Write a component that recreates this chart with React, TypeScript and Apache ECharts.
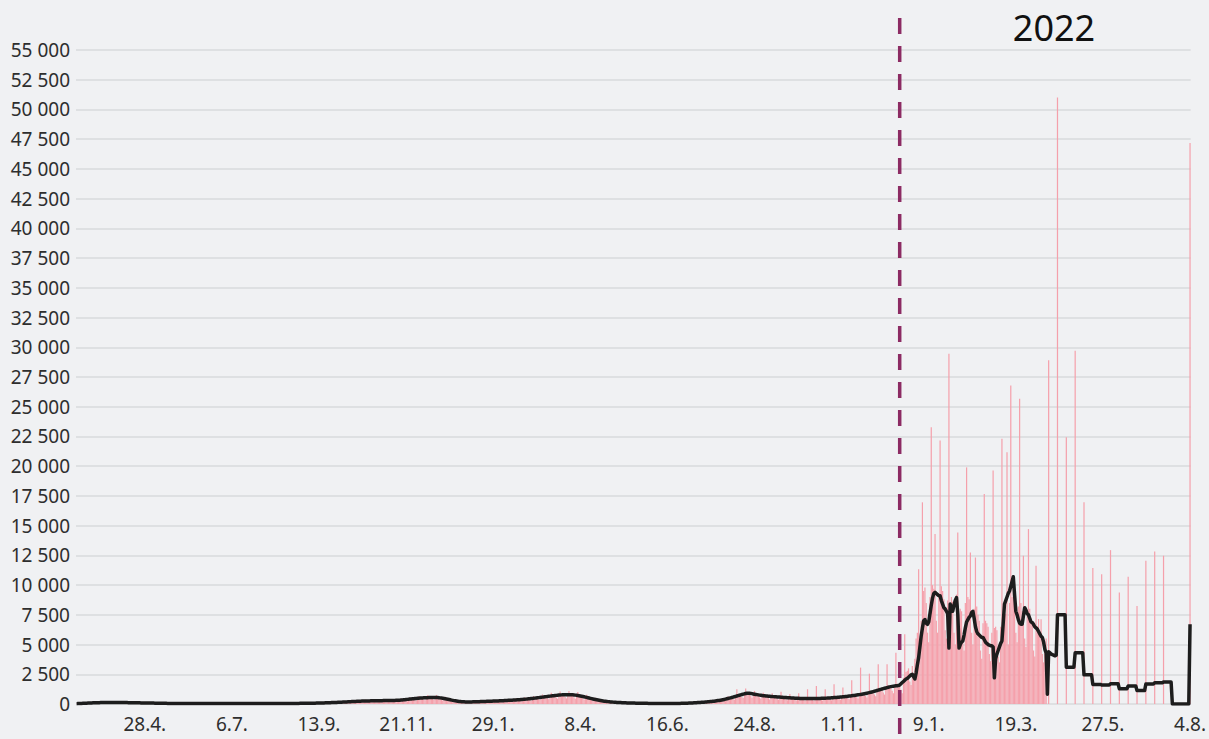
import React, { useEffect, useRef } from "react";
import * as echarts from "echarts";

// first day of the series: 5.3.2020
const START_YEAR = 2020;
const START_MONTH = 2; // March (0-based)
const START_DAY = 5;
const MARKER_INDEX = 652; // dashed separator
const YEAR_LABEL = "2022";
const Y_MAX = 55000;
const Y_STEP = 2500;
const LABEL_STEP = 69;

// daily values (one row = one week, Thu..Wed)
const dailyValues: number[] = [
  20, 30, 25, 20, 40, 60, 55,
  60, 75, 50, 45, 80, 120, 100,
  100, 110, 80, 70, 110, 160, 125,
  125, 130, 95, 80, 120, 175, 140,
  135, 135, 100, 80, 120, 180, 140,
  130, 125, 90, 75, 110, 165, 125,
  115, 110, 80, 65, 95, 145, 110,
  100, 95, 70, 55, 85, 125, 95,
  85, 80, 60, 50, 70, 105, 80,
  70, 68, 50, 40, 58, 88, 65,
  58, 54, 40, 32, 45, 68, 52,
  46, 44, 32, 26, 38, 58, 45,
  40, 38, 28, 22, 34, 52, 40,
  36, 35, 26, 21, 32, 50, 38,
  34, 33, 25, 20, 30, 46, 36,
  33, 32, 24, 19, 29, 45, 35,
  35, 34, 26, 21, 31, 48, 37,
  39, 38, 28, 23, 35, 53, 42,
  43, 42, 32, 25, 38, 59, 46,
  46, 45, 34, 27, 41, 63, 50,
  45, 44, 33, 26, 40, 62, 48,
  41, 40, 30, 24, 36, 56, 44,
  39, 38, 28, 23, 34, 53, 42,
  41, 40, 30, 24, 36, 56, 44,
  46, 45, 34, 27, 41, 63, 50,
  54, 52, 39, 31, 47, 73, 57,
  60, 60, 46, 38, 59, 94, 77,
  75, 75, 58, 48, 75, 120, 99,
  97, 97, 75, 62, 97, 157, 128,
  126, 125, 97, 81, 126, 203, 165,
  163, 160, 124, 103, 160, 258, 209,
  206, 202, 156, 128, 198, 315, 253,
  247, 240, 183, 149, 227, 357, 284,
  273, 262, 198, 160, 241, 378, 299,
  288, 276, 208, 168, 254, 398, 315,
  302, 290, 219, 176, 266, 417, 330,
  317, 305, 232, 189, 290, 462, 374,
  367, 362, 281, 233, 360, 577, 467,
  458, 447, 343, 281, 430, 683, 546,
  529, 511, 388, 314, 477, 749, 594,
  572, 548, 412, 330, 493, 762, 592,
  554, 515, 375, 289, 416, 616, 460,
  415, 372, 262, 197, 275, 400, 293,
  260, 232, 163, 124, 176, 263, 200,
  187, 176, 131, 105, 158, 249, 198,
  192, 186, 142, 116, 178, 283, 227,
  220, 214, 163, 133, 203, 322, 257,
  250, 242, 184, 150, 230, 364, 292,
  283, 276, 211, 173, 265, 420, 337,
  328, 318, 243, 198, 303, 482, 386,
  376, 366, 280, 229, 351, 560, 451,
  441, 432, 333, 274, 421, 672, 543,
  533, 522, 402, 330, 508, 809, 651,
  636, 620, 475, 389, 596, 946, 759,
  737, 714, 544, 443, 673, 1061, 845,
  815, 782, 589, 473, 709, 1100, 860,
  815, 768, 568, 448, 659, 1002, 768,
  712, 656, 474, 364, 522, 776, 581,
  527, 476, 337, 254, 360, 526, 387,
  346, 310, 217, 163, 230, 336, 249,
  223, 200, 141, 107, 151, 221, 165,
  149, 135, 96, 73, 104, 155, 117,
  106, 97, 70, 53, 77, 116, 88,
  81, 74, 54, 42, 61, 92, 70,
  65, 60, 43, 34, 49, 73, 55,
  50, 46, 33, 25, 37, 56, 43,
  40, 37, 27, 21, 31, 49, 38,
  37, 36, 28, 23, 36, 59, 48,
  48, 48, 38, 32, 51, 84, 70,
  71, 72, 58, 49, 78, 129, 108,
  109, 110, 88, 74, 118, 193, 161,
  162, 163, 129, 109, 173, 284, 235,
  237, 240, 191, 162, 257, 423, 352,
  357, 362, 289, 246, 392, 647, 539,
  544, 548, 434, 365, 576, 1240, 774,
  773, 766, 597, 496, 770, 1300, 990,
  955, 905, 668, 522, 763, 1100, 887,
  825, 766, 561, 438, 643, 950, 757,
  710, 664, 490, 386, 572, 900, 682,
  643, 604, 447, 353, 522, 1040, 620,
  584, 548, 405, 319, 472, 840, 561,
  529, 498, 369, 292, 432, 900, 519,
  491, 465, 347, 276, 412, 1240, 501,
  477, 454, 341, 274, 412, 1520, 509,
  489, 470, 356, 287, 435, 1240, 543,
  525, 507, 386, 313, 476, 1660, 600,
  582, 563, 429, 349, 533, 1380, 675,
  657, 638, 488, 398, 610, 2000, 777,
  757, 737, 565, 462, 709, 3060, 908,
  887, 866, 666, 547, 842, 2550, 1085,
  1064, 1041, 803, 660, 1018, 3340, 1316,
  1292, 1260, 968, 792, 1215, 3340, 1551,
  1512, 1460, 1110, 900, 1364, 4320, 1694,
  1400, 1700, 1200, 900, 2200, 5870, 2700,
  2800, 3000, 1900, 1600, 3200, 2600, 3800,
  5500, 6000, 11340, 5200, 7000, 16960, 9500,
  9800, 8500, 6000, 5200, 9000, 23270, 10000,
  9700, 14290, 7000, 6000, 9000, 22150, 9900,
  9500, 8800, 6200, 5500, 8700, 29450, 8000,
  9000, 8600, 6000, 5000, 9200, 14430, 7500,
  8000, 7800, 5200, 4500, 8500, 19900, 9000,
  8800, 12740, 6000, 5000, 8000, 12320, 8200,
  7500, 7000, 4500, 3800, 6800, 17670, 7000,
  6800, 6500, 4200, 3600, 6000, 19630, 6400,
  6500, 6200, 4000, 3500, 6500, 22300, 7500,
  8000, 7600, 21170, 5000, 8500, 26790, 9000,
  9800, 9000, 6000, 5200, 8200, 25670, 8500,
  7800, 12470, 5500, 4800, 7500, 14710, 8000,
  7200, 6800, 4500, 4000, 11620, 6500, 7150,
  6000, 7130, 4200, 3500, 4800, 5500, 0,
  28900, 0, 0, 0, 0, 0, 0,
  51000, 0, 0, 0, 0, 0, 0,
  22430, 0, 0, 0, 0, 0, 0,
  29700, 0, 0, 0, 0, 0, 0,
  16960, 0, 0, 0, 0, 0, 0,
  11430, 0, 0, 0, 0, 0, 0,
  10920, 0, 0, 0, 0, 0, 0,
  12940, 0, 0, 0, 0, 0, 0,
  9380, 0, 0, 0, 0, 0, 0,
  10700, 0, 0, 0, 0, 0, 0,
  8250, 0, 0, 0, 0, 0, 0,
  12050, 0, 0, 0, 0, 0, 0,
  12830, 0, 0, 0, 0, 0, 0,
  12470, 0, 0, 0, 0, 0, 0,
  0, 0, 0, 0, 0, 0, 0,
  0, 0, 0, 0, 0, 0, 0,
  47170,
];

// 7-day average line (same weekly rows)
const avgValues: number[] = [
  30, 35, 40, 45, 50, 55, 60,
  65, 70, 75, 80, 85, 90, 95,
  100, 105, 110, 112, 115, 118, 120,
  122, 125, 127, 128, 130, 130, 131,
  132, 133, 133, 132, 131, 130, 128,
  126, 124, 122, 120, 118, 116, 114,
  112, 110, 108, 106, 104, 102, 100,
  98, 96, 94, 92, 90, 88, 86,
  84, 82, 80, 78, 76, 74, 72,
  70, 68, 66, 64, 62, 60, 58,
  56, 54, 52, 50, 48, 47, 46,
  45, 44, 43, 42, 41, 40, 40,
  39, 38, 38, 37, 37, 36, 36,
  35, 35, 35, 35, 35, 35, 34,
  33, 33, 33, 33, 33, 33, 32,
  32, 32, 32, 32, 32, 33, 33,
  34, 34, 34, 35, 35, 36, 37,
  38, 38, 39, 39, 40, 41, 41,
  42, 42, 43, 43, 44, 44, 45,
  45, 45, 45, 45, 45, 44, 44,
  44, 44, 43, 43, 42, 42, 41,
  40, 40, 40, 39, 39, 39, 38,
  38, 38, 38, 39, 39, 39, 40,
  40, 41, 41, 42, 42, 43, 44,
  45, 45, 46, 47, 48, 49, 50,
  51, 52, 53, 54, 55, 56, 57,
  58, 60, 62, 64, 66, 68, 70,
  72, 75, 78, 80, 83, 86, 90,
  93, 97, 100, 104, 108, 112, 116,
  120, 125, 130, 135, 140, 145, 150,
  155, 160, 166, 172, 178, 184, 190,
  196, 202, 208, 214, 220, 225, 230,
  235, 240, 244, 248, 252, 255, 258,
  260, 262, 264, 266, 268, 270, 272,
  274, 276, 278, 280, 282, 284, 286,
  288, 290, 292, 294, 296, 298, 300,
  302, 305, 310, 315, 322, 330, 340,
  350, 362, 375, 388, 400, 412, 425,
  436, 447, 458, 468, 478, 488, 496,
  504, 511, 518, 524, 530, 535, 540,
  545, 548, 550, 550, 548, 544, 538,
  528, 515, 500, 482, 462, 440, 418,
  395, 372, 350, 328, 306, 286, 266,
  248, 232, 218, 206, 196, 188, 182,
  178, 176, 175, 175, 176, 178, 180,
  183, 186, 190, 194, 198, 202, 206,
  210, 214, 218, 222, 226, 230, 234,
  238, 242, 246, 250, 255, 260, 265,
  270, 276, 282, 288, 294, 300, 306,
  312, 318, 324, 330, 337, 344, 351,
  358, 366, 374, 382, 390, 400, 410,
  420, 432, 444, 456, 468, 480, 494,
  508, 522, 536, 550, 564, 578, 592,
  606, 620, 634, 648, 662, 676, 690,
  702, 714, 726, 738, 748, 758, 768,
  776, 782, 786, 788, 788, 786, 782,
  776, 768, 758, 746, 732, 716, 698,
  678, 656, 632, 606, 580, 554, 528,
  502, 476, 450, 424, 400, 376, 352,
  330, 310, 290, 272, 256, 240, 226,
  212, 200, 188, 178, 168, 158, 150,
  142, 135, 128, 122, 116, 111, 106,
  101, 97, 93, 89, 86, 83, 80,
  77, 74, 72, 70, 68, 66, 64,
  62, 60, 58, 56, 54, 52, 50,
  48, 46, 44, 42, 41, 40, 39,
  38, 37, 36, 35, 35, 35, 35,
  35, 36, 37, 38, 40, 42, 44,
  46, 48, 51, 54, 57, 60, 64,
  68, 72, 77, 82, 87, 92, 98,
  104, 110, 117, 124, 131, 138, 146,
  154, 163, 172, 182, 192, 203, 214,
  226, 240, 255, 270, 286, 302, 320,
  340, 362, 385, 410, 436, 462, 490,
  518, 548, 578, 608, 640, 672, 704,
  736, 766, 796, 826, 856, 880, 900,
  910, 905, 890, 870, 848, 826, 806,
  786, 766, 748, 730, 714, 700, 688,
  676, 664, 654, 644, 636, 628, 620,
  612, 604, 596, 588, 580, 572, 564,
  556, 548, 540, 532, 524, 516, 510,
  504, 498, 492, 486, 480, 476, 472,
  468, 465, 462, 460, 458, 456, 455,
  454, 454, 455, 456, 458, 460, 463,
  466, 470, 474, 478, 483, 488, 494,
  500, 507, 514, 521, 529, 537, 545,
  554, 563, 572, 582, 592, 603, 614,
  626, 638, 651, 664, 678, 692, 706,
  721, 737, 753, 770, 788, 806, 825,
  845, 866, 888, 911, 935, 960, 986,
  1013, 1041, 1070, 1100, 1131, 1163, 1196,
  1230, 1260, 1290, 1320, 1350, 1380, 1410,
  1440, 1460, 1480, 1500, 1515, 1530, 1540,
  1550, 1600, 1700, 1800, 1900, 2000, 2100,
  2150, 2250, 2350, 2450, 2500, 2300, 2100,
  2600, 3300, 3900, 4800, 5700, 6400, 7000,
  7100, 6800, 6700, 6900, 7600, 8300, 8900,
  9300, 9400, 9300, 9200, 9100, 9100, 8700,
  8400, 8100, 8000, 7800, 7600, 4700, 8400,
  8100, 7800, 8300, 8700, 8950, 7600, 4700,
  5000, 5200, 5300, 5800, 6400, 6900, 7100,
  7300, 7400, 7700, 7800, 7200, 6500, 6100,
  5900, 5800, 5700, 5600, 5600, 5400, 5200,
  5100, 5000, 4950, 4900, 4900, 4800, 2200,
  3800, 4200, 4500, 4800, 5100, 5300, 6800,
  8400, 8700, 9000, 9300, 9500, 9900, 10300,
  10700, 9200, 7800, 7500, 7100, 6800, 6700,
  6700, 7400, 8100, 7900, 7600, 7500, 7200,
  6900, 6850, 6700, 6500, 6400, 6300, 6100,
  5900, 5700, 5600, 5200, 4600, 4300, 820,
  4400, 4300, 4200, 4150, 4100, 4050, 4100,
  7500, 7500, 7500, 7500, 7500, 7500, 7500,
  3100, 3100, 3100, 3100, 3100, 3100, 3100,
  4300, 4300, 4300, 4300, 4300, 4300, 4300,
  2450, 2450, 2450, 2450, 2450, 2450, 2450,
  1650, 1650, 1650, 1650, 1650, 1650, 1650,
  1600, 1600, 1600, 1600, 1600, 1600, 1600,
  1700, 1700, 1700, 1700, 1700, 1700, 1700,
  1280, 1280, 1280, 1280, 1280, 1280, 1280,
  1520, 1520, 1520, 1520, 1520, 1520, 1520,
  1130, 1130, 1130, 1130, 1130, 1130, 1130,
  1680, 1680, 1680, 1680, 1680, 1680, 1680,
  1780, 1780, 1780, 1780, 1780, 1780, 1780,
  1850, 1850, 1850, 1850, 1850, 1850, 1850,
  0, 0, 0, 0, 0, 0, 0,
  0, 0, 0, 0, 0, 0, 0,
  6700,
];

function buildCategories(n: number): string[] {
  const out: string[] = [];
  for (let i = 0; i < n; i++) {
    const d = new Date(Date.UTC(START_YEAR, START_MONTH, START_DAY + i));
    out.push(`${d.getUTCDate()}.${d.getUTCMonth() + 1}.`);
  }
  return out;
}

const fmt = (v: number) => String(v).replace(/\B(?=(\d{3})+(?!\d))/g, " ");

export default function App() {
  const ref = useRef<HTMLDivElement>(null);

  useEffect(() => {
    document.body.style.margin = "0";
    document.body.style.background = "#f0f1f3";
    if (!ref.current) return;
    const chart = echarts.init(ref.current, undefined, { renderer: "svg" });
    const categories = buildCategories(dailyValues.length);
    const last = categories.length - 1;
    const font = "'Noto Sans', 'Open Sans', sans-serif";

    chart.setOption({
      animation: false,
      backgroundColor: "#f0f1f3",
      grid: { left: 76, right: 18, top: 50, bottom: 35, containLabel: false },
      xAxis: {
        type: "category",
        data: categories,
        boundaryGap: true,
        axisLine: { show: false },
        axisTick: { show: false },
        splitLine: { show: false },
        axisLabel: {
          interval: (idx: number) => (last - idx) % LABEL_STEP === 0,
          hideOverlap: false,
          color: "#2e2e2e",
          fontSize: 19,
          fontFamily: font,
          margin: 10,
        },
      },
      yAxis: {
        type: "value",
        min: 0,
        max: Y_MAX,
        interval: Y_STEP,
        axisLine: { show: false },
        axisTick: { show: false },
        splitLine: { lineStyle: { color: "#d9dadd", width: 1.5 } },
        axisLabel: {
          formatter: fmt,
          color: "#2e2e2e",
          fontSize: 19,
          fontFamily: font,
          margin: 6,
        },
      },
      series: [
        {
          type: "bar",
          data: dailyValues,
          barCategoryGap: "4%",
          itemStyle: { color: "#f5a0ab" },
          z: 2,
        },
        {
          type: "line",
          data: avgValues,
          showSymbol: false,
          symbol: "none",
          lineStyle: { color: "#1d1d1d", width: 3.5, join: "round" },
          z: 3,
        },
      ],
    });

    const mx = chart.convertToPixel({ xAxisIndex: 0 }, MARKER_INDEX) as number;
    chart.setOption({
      graphic: [
        {
          type: "line",
          shape: { x1: mx, y1: 18, x2: mx, y2: 739 },
          style: { stroke: "#8c2b63", lineWidth: 3.5, lineDash: [16, 12] },
          z: 10,
        },
        {
          type: "text",
          x: 1054,
          y: 27,
          style: {
            text: YEAR_LABEL,
            font: "36px 'Noto Sans', sans-serif",
            fill: "#111111",
            textAlign: "center",
            textVerticalAlign: "middle",
          },
          z: 10,
        },
      ],
    });

    return () => chart.dispose();
  }, []);

  return (
    <div
      ref={ref}
      style={{ position: "fixed", left: 0, top: 0, width: 1209, height: 739 }}
    />
  );
}
